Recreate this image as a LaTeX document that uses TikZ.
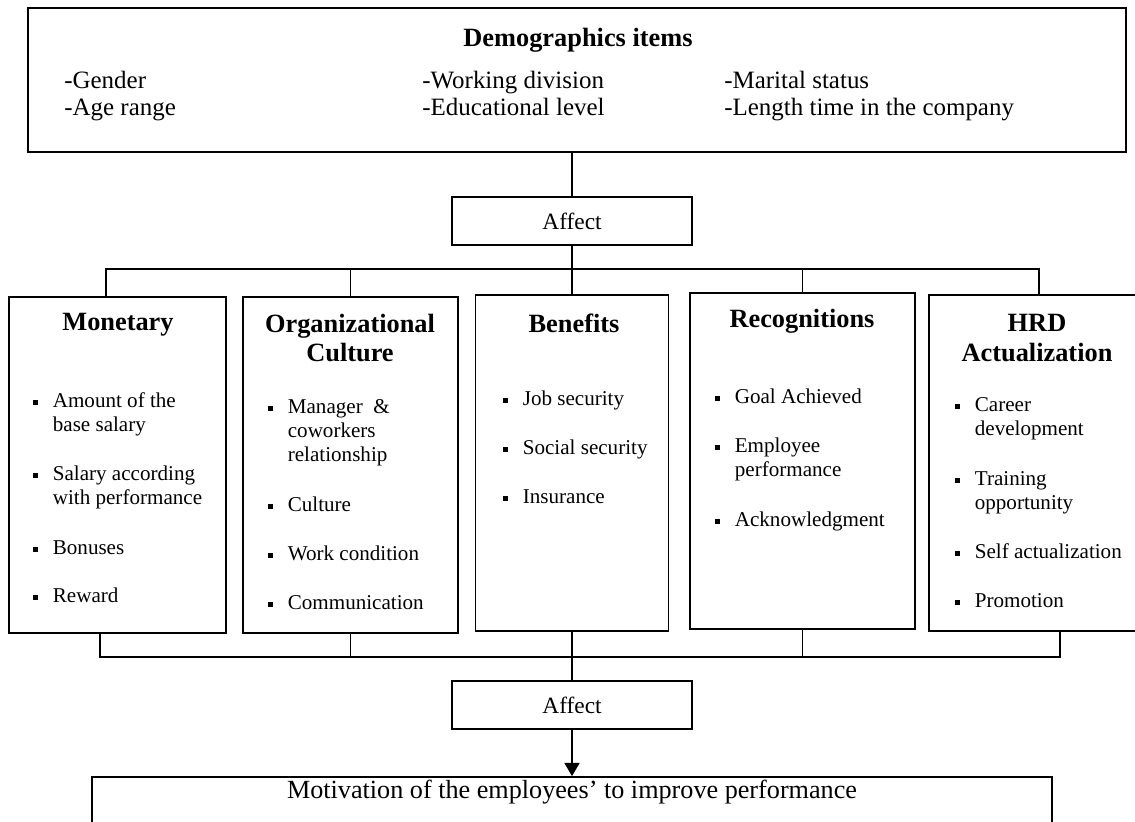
\documentclass[tikz,border=0pt]{standalone}
\usepackage{fontspec}
\setmainfont{Liberation Serif}
\usetikzlibrary{arrows.meta,positioning,calc}

\newcommand{\sqb}{\rule[0.25ex]{2.8pt}{2.8pt}}
\newcommand{\pnt}[1]{\begin{tabular}[t]{@{}l@{\hspace{8.3pt}}l@{}}\sqb & #1\end{tabular}}

\tikzset{
  box/.style={draw,line width=1pt,rectangle,inner sep=0pt},
  ttl/.style={font=\bfseries\fontsize{15}{17}\selectfont,align=center,inner sep=0pt},
  dem/.style={anchor=base west,inner sep=0pt,font=\fontsize{14.2}{16}\selectfont},
  itm/.style={anchor=base west,inner sep=0pt,font=\fontsize{12}{13.9}\selectfont},
  lnk/.style={line width=1pt},
}

\begin{document}
\begin{tikzpicture}[x=0.02cm,y=-0.02cm]
\useasboundingbox (0,0) rectangle (1135,821);

% boxes
\foreach \name/\x/\y/\w/\h in {demo/577/80/1098/144,aff1/572/221/240/48,
  mon/117.5/465/217/336,org/350.5/465/215/336,ben/572/463/193/336,
  rec/802.5/461/225/336,hrd/1039/463/220/336,aff2/572/705/240/48,mot/572/812/960/70} {
  \node[box,minimum width=\w*0.02cm,minimum height=\h*0.02cm] (\name) at (\x,\y) {};
}

% top box
\node[ttl] (demot) at (578,40) {Demographics items};
\foreach \n/\t/\x/\y in {gen/-Gender/64/89,age/-Age range/64/115,div/-Working division/422/89,
  edu/-Educational level/422/115,mar/-Marital status/724/89,len/-Length time in the company/724/115} {
  \node[dem] (\n) at (\x,\y) {\t};
}

\node[font=\fontsize{13.3}{15}\selectfont] (aff1t) at (aff1) {Affect};
\node[font=\fontsize{13.3}{15}\selectfont] (aff2t) at (aff2) {Affect};
\node[font=\fontsize{14.9}{17}\selectfont] (mott) at (572,792) {Motivation of the employees' to improve performance};

% titles
\node[ttl] (mont) at (118,325) {Monetary};
\node[ttl] (orgt) at (350,338) {Organizational\\Culture};
\node[ttl] (bent) at (574,323) {Benefits};
\node[ttl] (rect) at (802,321) {Recognitions};
\node[ttl] (hrdt) at (1037,338) {HRD\\Actualization};

% items
\foreach \t/\y [count=\i] in {{Amount of the\\ & base salary}/407,{Salary according\\ & with performance}/480,
  Bonuses/554,Reward/602} {
  \node[itm] (mon\i) at (33,\y) {\pnt{\t}};
}
\foreach \t/\y [count=\i] in {{Manager\ \ \&\\ & coworkers\\ & relationship}/413,Culture/511,
  Work condition/560,Communication/609} {
  \node[itm] (org\i) at (268,\y) {\pnt{\t}};
}
\foreach \t/\y [count=\i] in {Job security/405,Social security/454,Insurance/503} {
  \node[itm] (ben\i) at (503,\y) {\pnt{\t}};
}
\foreach \t/\y [count=\i] in {Goal Achieved/403,{Employee\\ & performance}/452,Acknowledgment/526} {
  \node[itm] (rec\i) at (715,\y) {\pnt{\t}};
}
\foreach \t/\y [count=\i] in {{Career\\ & development}/411,{Training\\ & opportunity}/485,
  Self actualization/558,Promotion/607} {
  \node[itm] (hrd\i) at (955,\y) {\pnt{\t}};
}

% connectors
\coordinate (tbus) at (572,269);
\coordinate (bbus) at (572,657);
\draw[lnk] (demo.south -| aff1.north) -- (aff1.north);
\draw[lnk] (aff1.south) -- (tbus);
\draw[lnk] ([xshift=-0.23cm]mon.north) |- (hrd.north |- tbus) -- (hrd.north);
\foreach \b in {org,ben,rec} {\draw[lnk] (\b.north) -- (\b.north |- tbus);}
\draw[lnk] ([xshift=-0.35cm]mon.south) |- ([xshift=0.42cm]hrd.south |- bbus) -- ([xshift=0.42cm]hrd.south);
\foreach \b in {org,ben,rec} {\draw[lnk] (\b.south) -- (\b.south |- bbus);}
\draw[lnk] (bbus) -- (aff2.north);
\draw[lnk,-{Triangle[width=8.5pt,length=7.5pt]}] (aff2.south) -- (mot.north);
\end{tikzpicture}
\end{document}
